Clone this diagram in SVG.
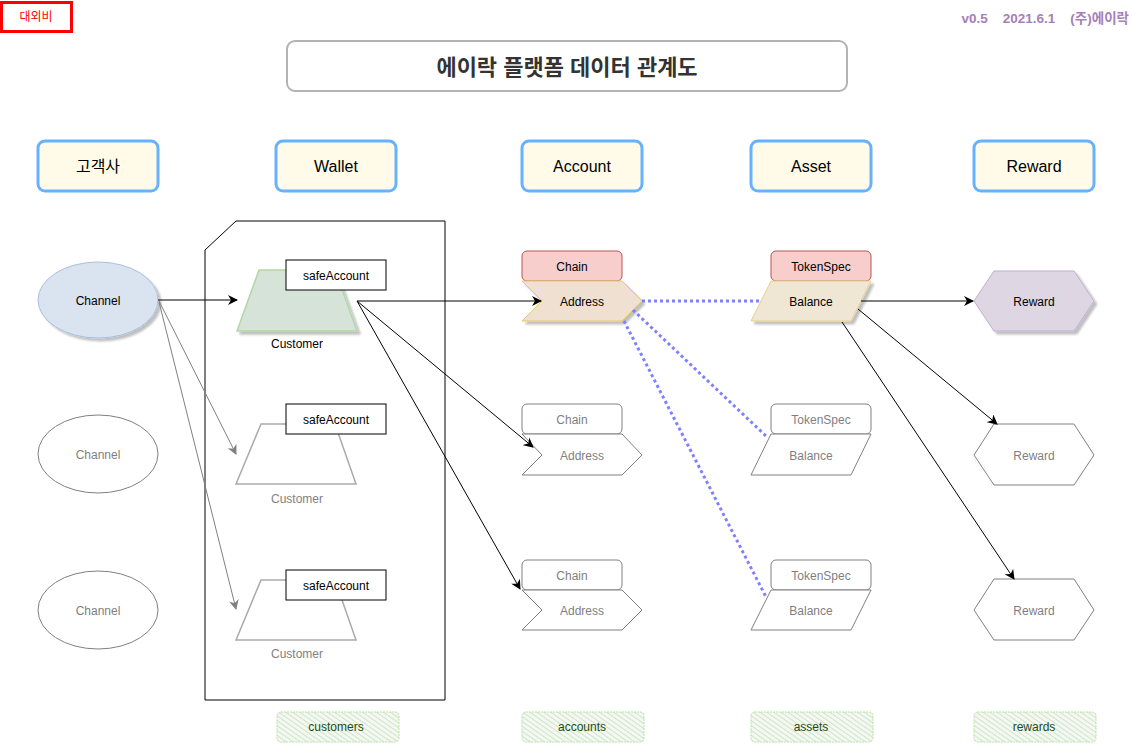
<svg xmlns="http://www.w3.org/2000/svg" width="1132" height="745" viewBox="0 0 1132 745">
<style>
text{font-family:"Liberation Sans","Noto Sans CJK KR",Arial,sans-serif;text-anchor:middle;dominant-baseline:central}
.hdr rect{fill:#fffbe8;stroke:#66b2ff;stroke-width:3}
.hdr text{font-size:16px;fill:#000}
.t12{font-size:12px;fill:#000}
.g12{font-size:12px;fill:#7f7f7f}
.chainA{fill:#f8cecc;stroke:#b85450}
.chainI{fill:#fff;stroke:#808080}
.inact{fill:#fff;stroke:#808080}
.sa{fill:#fff;stroke:#000}
.ln{fill:none;stroke:#000;stroke-width:1}
.lg{fill:none;stroke:#808080;stroke-width:1}
.dot{fill:none;stroke:#8080ff;stroke-width:3;stroke-dasharray:3 3}
.bot rect{fill:url(#hatch);stroke:#b9e0a5;stroke-dasharray:2 1}
.bot text{font-size:12px;fill:#1b4d1b}
</style>
<defs>
<filter id="sh" x="-20%" y="-20%" width="140%" height="140%">
<feGaussianBlur in="SourceAlpha" stdDeviation="0.8"/>
<feOffset dx="3" dy="3" result="o"/>
<feComponentTransfer><feFuncA type="linear" slope="0.25"/></feComponentTransfer>
<feMerge><feMergeNode/><feMergeNode in="SourceGraphic"/></feMerge>
</filter>
<pattern id="hatch" width="4" height="4" patternUnits="userSpaceOnUse" patternTransform="rotate(-55)">
<rect width="4" height="4" fill="#f4f8f2"/>
<line x1="0" y1="0" x2="0" y2="4" stroke="#c2dbb5" stroke-width="1.4"/>
</pattern>
<marker id="ab" viewBox="0 0 10 10" refX="9" refY="5" markerWidth="10" markerHeight="10" markerUnits="userSpaceOnUse" orient="auto">
<path d="M0,0 L10,5 L0,10 L3,5 Z" fill="#000"/>
</marker>
<marker id="ag" viewBox="0 0 10 10" refX="9" refY="5" markerWidth="10" markerHeight="10" markerUnits="userSpaceOnUse" orient="auto">
<path d="M0,0 L10,5 L0,10 L3,5 Z" fill="#808080"/>
</marker>
</defs>

<g id="confidential">
<rect x="1.5" y="2.5" width="70" height="29" fill="#fff" stroke="#ff0000" stroke-width="3"/>
<text x="36" y="17" style="font-size:12px;fill:#ff0000">대외비</text>
</g>
<g id="version">
<text x="1129" y="18" xml:space="preserve" style="font-size:13.5px;font-weight:bold;fill:#a680b8;text-anchor:end">v0.5    2021.6.1    (주)에이락</text>
</g>
<g id="title">
<rect x="287" y="41" width="560" height="50" rx="8" fill="#fff" stroke="#b3b3b3" stroke-width="2"/>
<text x="567" y="67" style="font-size:22px;font-weight:bold;fill:#333">에이락 플랫폼 데이터 관계도</text>
</g>

<g id="h-customer" class="hdr"><rect x="38" y="141" width="120" height="50" rx="7"/><text x="98" y="166">고객사</text></g>
<g id="h-wallet" class="hdr"><rect x="276" y="141" width="120" height="50" rx="7"/><text x="336" y="166">Wallet</text></g>
<g id="h-account" class="hdr"><rect x="522" y="141" width="120" height="50" rx="7"/><text x="582" y="166">Account</text></g>
<g id="h-asset" class="hdr"><rect x="751" y="141" width="120" height="50" rx="7"/><text x="811" y="166">Asset</text></g>
<g id="h-reward" class="hdr"><rect x="974" y="141" width="120" height="50" rx="7"/><text x="1034" y="166">Reward</text></g>

<g id="wallet-container">
<path d="M205,250 L236,221 L445,221 L445,700 L205,700 Z" fill="none" stroke="#000" stroke-width="1"/>
</g>

<g id="channel1">
<ellipse cx="98" cy="300" rx="60" ry="38" fill="#dae3f0" stroke="#a9bfdd" filter="url(#sh)"/>
<text class="t12" x="98" y="301">Channel</text>
</g>
<g id="channel2">
<ellipse cx="98" cy="454" rx="60" ry="39" class="inact"/>
<text class="g12" x="98" y="455">Channel</text>
</g>
<g id="channel3">
<ellipse cx="98" cy="610" rx="60" ry="39" class="inact"/>
<text class="g12" x="98" y="611">Channel</text>
</g>

<g id="customer1">
<path d="M259,270 L335,270 L357,331 L237,331 Z" fill="#d5e3d8" stroke="#b5d6a7" stroke-width="1.5" filter="url(#sh)"/>
<rect x="286" y="260" width="100" height="30" class="sa"/>
<text class="t12" x="336" y="276">safeAccount</text>
<text class="t12" x="297" y="344">Customer</text>
</g>
<g id="customer2">
<path d="M261,424 L335,424 L356,484 L236,484 Z" fill="#fff" stroke="#aaa" stroke-width="1.5"/>
<rect x="286" y="404" width="100" height="30" class="sa" stroke="#555"/>
<text class="t12" x="336" y="420">safeAccount</text>
<text class="g12" x="297" y="499">Customer</text>
</g>
<g id="customer3">
<path d="M261,580 L335,580 L356,640 L236,640 Z" fill="#fff" stroke="#aaa" stroke-width="1.5"/>
<rect x="286" y="570" width="100" height="30" class="sa" stroke="#555"/>
<text class="t12" x="336" y="586">safeAccount</text>
<text class="g12" x="297" y="654">Customer</text>
</g>

<g id="account1">
<rect x="522" y="251" width="100" height="30" rx="5" class="chainA"/>
<text class="t12" x="572" y="267">Chain</text>
<path d="M522,281 L622,281 L642,301 L622,321 L522,321 L542,301 Z" fill="#efe0d2" stroke="#e6c66e" filter="url(#sh)"/>
<text class="t12" x="582" y="302">Address</text>
</g>
<g id="account2">
<rect x="522" y="404" width="100" height="30" rx="5" class="chainI"/>
<text class="g12" x="572" y="420">Chain</text>
<path d="M522,434 L622,434 L642,455 L622,475 L522,475 L542,455 Z" class="inact"/>
<text class="g12" x="582" y="456">Address</text>
</g>
<g id="account3">
<rect x="522" y="560" width="100" height="30" rx="5" class="chainI"/>
<text class="g12" x="572" y="576">Chain</text>
<path d="M522,590 L622,590 L642,610 L622,630 L522,630 L542,610 Z" class="inact"/>
<text class="g12" x="582" y="611">Address</text>
</g>

<g id="asset1">
<rect x="771" y="251" width="100" height="30" rx="5" class="chainA"/>
<text class="t12" x="821" y="267">TokenSpec</text>
<path d="M771,281 L871,281 L851,321 L751,321 Z" fill="#efe6d3" stroke="#e6d08e" filter="url(#sh)"/>
<text class="t12" x="811" y="302">Balance</text>
</g>
<g id="asset2">
<rect x="771" y="404" width="100" height="30" rx="5" class="chainI"/>
<text class="g12" x="821" y="420">TokenSpec</text>
<path d="M771,434 L871,434 L851,475 L751,475 Z" class="inact"/>
<text class="g12" x="811" y="456">Balance</text>
</g>
<g id="asset3">
<rect x="771" y="560" width="100" height="30" rx="5" class="chainI"/>
<text class="g12" x="821" y="576">TokenSpec</text>
<path d="M771,590 L871,590 L851,630 L751,630 Z" class="inact"/>
<text class="g12" x="811" y="611">Balance</text>
</g>

<g id="reward1">
<path d="M994,271 L1074,271 L1094,301 L1074,331 L994,331 L974,301 Z" fill="#ded7e3" stroke="#c3add3" filter="url(#sh)"/>
<text class="t12" x="1034" y="302">Reward</text>
</g>
<g id="reward2">
<path d="M994,424 L1074,424 L1094,455 L1074,485 L994,485 L974,455 Z" class="inact"/>
<text class="g12" x="1034" y="456">Reward</text>
</g>
<g id="reward3">
<path d="M994,579 L1074,579 L1094,610 L1074,640 L994,640 L974,610 Z" class="inact"/>
<text class="g12" x="1034" y="611">Reward</text>
</g>

<g id="connectors">
<path class="ln" d="M158,300 L237,300" marker-end="url(#ab)"/>
<path class="lg" d="M159,301 L236,454" marker-end="url(#ag)"/>
<path class="lg" d="M159,302 L236,609" marker-end="url(#ag)"/>
<path class="ln" d="M357,301 L541,301" marker-end="url(#ab)"/>
<path class="ln" d="M357,301 L533,447" marker-end="url(#ab)"/>
<path class="ln" d="M357,301 L520,589" marker-end="url(#ab)"/>
<path class="dot" d="M642,301 L761,301"/>
<path class="dot" d="M633,310 L767,437"/>
<path class="dot" d="M624,321 L766,597"/>
<path class="ln" d="M861,301 L973,301" marker-end="url(#ab)"/>
<path class="ln" d="M858,309 L997,424" marker-end="url(#ab)"/>
<path class="ln" d="M842,322 L1014,579" marker-end="url(#ab)"/>
</g>

<g id="b-customers" class="bot"><rect x="277" y="712" width="122" height="30" rx="4"/><text x="336" y="727">customers</text></g>
<g id="b-accounts" class="bot"><rect x="522" y="712" width="122" height="30" rx="4"/><text x="582" y="727">accounts</text></g>
<g id="b-assets" class="bot"><rect x="751" y="712" width="122" height="30" rx="4"/><text x="811" y="727">assets</text></g>
<g id="b-rewards" class="bot"><rect x="974" y="712" width="122" height="30" rx="4"/><text x="1034" y="727">rewards</text></g>
</svg>
